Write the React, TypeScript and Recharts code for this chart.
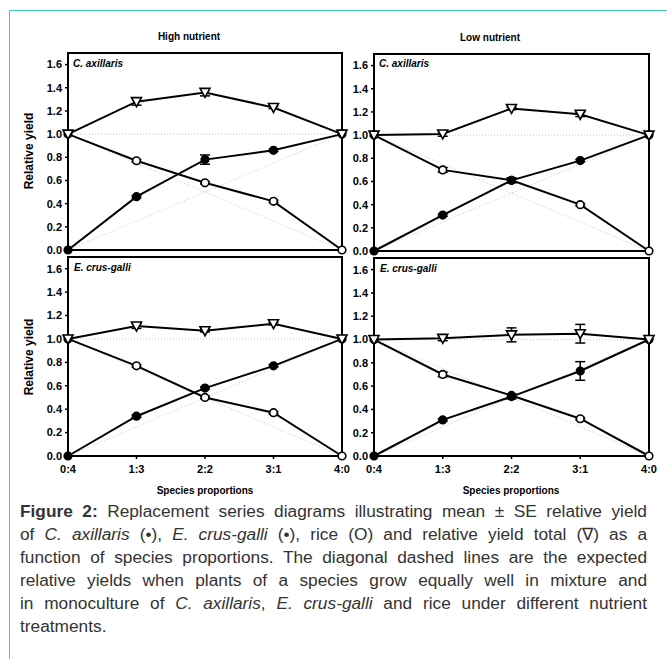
import React from 'react';
import { LineChart, Line, XAxis, YAxis, ErrorBar, ReferenceArea } from 'recharts';

const categories = ['0:4', '1:3', '2:2', '3:1', '4:0'];
const xPos = [0, 1, 2, 3, 4];
const yTicks = [0, 0.2, 0.4, 0.6, 0.8, 1.0, 1.2, 1.4, 1.6];

// expected (diagonal dashed) relative yields
const expectedWeed = [0, 0.25, 0.5, 0.75, 1.0];
const expectedRice = [1.0, 0.75, 0.5, 0.25, 0];
const expectedTotal = [1.0, 1.0, 1.0, 1.0, 1.0];

// High nutrient, C. axillaris
const highCaxWeed = [0, 0.46, 0.78, 0.86, 1.0];
const highCaxWeedErr = [0, 0.01, 0.04, 0.01, 0];
const highCaxRice = [1.0, 0.77, 0.58, 0.42, 0];
const highCaxRiceErr = [0, 0.01, 0.01, 0.01, 0];
const highCaxRyt = [1.0, 1.28, 1.36, 1.23, 1.0];
const highCaxRytErr = [0, 0.03, 0.03, 0.01, 0];

// Low nutrient, C. axillaris
const lowCaxWeed = [0, 0.31, 0.61, 0.78, 1.0];
const lowCaxWeedErr = [0, 0.01, 0.02, 0.01, 0];
const lowCaxRice = [1.0, 0.70, 0.61, 0.40, 0];
const lowCaxRiceErr = [0, 0.02, 0.02, 0.01, 0];
const lowCaxRyt = [1.0, 1.01, 1.23, 1.18, 1.0];
const lowCaxRytErr = [0, 0.02, 0.01, 0.02, 0];

// High nutrient, E. crus-galli
const highEcgWeed = [0, 0.34, 0.58, 0.77, 1.0];
const highEcgWeedErr = [0, 0.01, 0.01, 0.01, 0];
const highEcgRice = [1.0, 0.77, 0.50, 0.37, 0];
const highEcgRiceErr = [0, 0.01, 0.01, 0.01, 0];
const highEcgRyt = [1.0, 1.11, 1.07, 1.13, 1.0];
const highEcgRytErr = [0, 0.02, 0.01, 0.01, 0];

// Low nutrient, E. crus-galli
const lowEcgWeed = [0, 0.31, 0.51, 0.73, 1.0];
const lowEcgWeedErr = [0, 0.01, 0.02, 0.08, 0];
const lowEcgRice = [1.0, 0.70, 0.52, 0.32, 0];
const lowEcgRiceErr = [0, 0.02, 0.01, 0.01, 0];
const lowEcgRyt = [1.0, 1.01, 1.04, 1.05, 1.0];
const lowEcgRytErr = [0, 0.02, 0.06, 0.08, 0];

const FONT = '"Liberation Sans", Arial, Helvetica, sans-serif';

function buildRows(weed: number[], weedErr: number[], rice: number[], riceErr: number[], ryt: number[], rytErr: number[]) {
  return xPos.map((x, i) => ({
    x,
    weed: weed[i],
    weedErr: weedErr[i],
    rice: rice[i],
    riceErr: riceErr[i],
    ryt: ryt[i],
    rytErr: rytErr[i],
    expW: expectedWeed[i],
    expR: expectedRice[i],
    expT: expectedTotal[i],
  }));
}

const TriDot = (props: any) => {
  const { cx, cy, index } = props;
  if (cx == null || cy == null) return <g key={`tn-${index}`} />;
  return (
    <path
      key={`tri-${index}`}
      d={`M${cx - 5},${cy - 4} L${cx + 5},${cy - 4} L${cx},${cy + 5} Z`}
      fill="#fff"
      stroke="#000"
      strokeWidth={1.6}
    />
  );
};

type PanelProps = {
  plotLeft: number;
  plotTop: number;
  plotW: number;
  plotH: number;
  rows: any[];
  showX: boolean;
};

const Panel = ({ plotLeft, plotTop, plotW, plotH, rows, showX }: PanelProps) => {
  const yAxisW = 40;
  const mTop = 10;
  const mRight = 10;
  const xAxisH = showX ? 24 : 8;
  const width = plotW + yAxisW + mRight;
  const height = plotH + mTop + xAxisH;
  const tickStyle = { fontSize: 11, fontWeight: 'bold' as const, fill: '#000', fontFamily: FONT };
  return (
    <div style={{ position: 'absolute', left: plotLeft - yAxisW, top: plotTop - mTop }}>
      <LineChart width={width} height={height} data={rows} margin={{ top: mTop, right: mRight, left: 0, bottom: 0 }}>
        <XAxis
          dataKey="x"
          type="number"
          domain={[0, 4]}
          ticks={xPos}
          tickFormatter={(v: number) => categories[v]}
          height={xAxisH}
          axisLine={false}
          tickLine={{ stroke: '#000', strokeWidth: 1.5 }}
          tickSize={3}
          tickMargin={6}
          tick={showX ? tickStyle : false}
          interval={0}
        />
        <YAxis
          type="number"
          domain={[0, 1.7]}
          ticks={yTicks}
          tickFormatter={(v: number) => v.toFixed(1)}
          width={yAxisW}
          axisLine={false}
          tickLine={{ stroke: '#000', strokeWidth: 1.5 }}
          tickSize={3}
          tickMargin={3}
          tick={tickStyle}
          interval={0}
        />
        <Line dataKey="expT" stroke="#d0d0d0" strokeWidth={1.2} strokeDasharray="1 2" dot={false} activeDot={false} isAnimationActive={false} />
        <Line dataKey="expW" stroke="#d0d0d0" strokeWidth={1.2} strokeDasharray="1 2" dot={false} activeDot={false} isAnimationActive={false} />
        <Line dataKey="expR" stroke="#d0d0d0" strokeWidth={1.2} strokeDasharray="1 2" dot={false} activeDot={false} isAnimationActive={false} />
        <Line
          dataKey="rice"
          stroke="#000"
          strokeWidth={2}
          dot={{ r: 3.8, fill: '#fff', stroke: '#000', strokeWidth: 1.6 }}
          activeDot={false}
          isAnimationActive={false}
        >
          <ErrorBar dataKey="riceErr" direction="y" width={5} stroke="#000" strokeWidth={1.5} />
        </Line>
        <Line
          dataKey="weed"
          stroke="#000"
          strokeWidth={2}
          dot={{ r: 3.8, fill: '#000', stroke: '#000', strokeWidth: 1.6 }}
          activeDot={false}
          isAnimationActive={false}
        >
          <ErrorBar dataKey="weedErr" direction="y" width={5} stroke="#000" strokeWidth={1.5} />
        </Line>
        <Line
          dataKey="ryt"
          stroke="#000"
          strokeWidth={2}
          dot={TriDot}
          activeDot={false}
          isAnimationActive={false}
        >
          <ErrorBar dataKey="rytErr" direction="y" width={5} stroke="#000" strokeWidth={1.5} />
        </Line>
        <ReferenceArea x1={0} x2={4} y1={0} y2={1.7} fill="none" stroke="#000" strokeWidth={2} ifOverflow="visible" />
      </LineChart>
    </div>
  );
};

const txt = (style: React.CSSProperties, content: React.ReactNode) => (
  <div style={{ position: 'absolute', fontFamily: FONT, whiteSpace: 'nowrap', ...style }}>{content}</div>
);

const captionLines: React.ReactNode[] = [
  <>
    <b>Figure 2:</b> Replacement series diagrams illustrating mean ± SE relative yield
  </>,
  <>
    of <i>C. axillaris</i> (•), <i>E. crus-galli</i> (•), rice (O) and relative yield total (∇) as a
  </>,
  <>function of species proportions. The diagonal dashed lines are the expected</>,
  <>relative yields when plants of a species grow equally well in mixture and</>,
  <>
    in monoculture of <i>C. axillaris</i>, <i>E. crus-galli</i> and rice under different nutrient
  </>,
  <>treatments.</>,
];

export default function App() {
  const rowsHighCax = buildRows(highCaxWeed, highCaxWeedErr, highCaxRice, highCaxRiceErr, highCaxRyt, highCaxRytErr);
  const rowsLowCax = buildRows(lowCaxWeed, lowCaxWeedErr, lowCaxRice, lowCaxRiceErr, lowCaxRyt, lowCaxRytErr);
  const rowsHighEcg = buildRows(highEcgWeed, highEcgWeedErr, highEcgRice, highEcgRiceErr, highEcgRyt, highEcgRytErr);
  const rowsLowEcg = buildRows(lowEcgWeed, lowEcgWeedErr, lowEcgRice, lowEcgRiceErr, lowEcgRyt, lowEcgRytErr);

  return (
    <div style={{ position: 'absolute', left: 0, top: 0, width: 667, height: 659, background: '#fff', overflow: 'hidden', fontFamily: FONT }}>
      {/* teal frame */}
      <div style={{ position: 'absolute', left: 9, top: 10, width: 660, height: 0, borderTop: '1.5px solid #45cbb6' }} />
      <div style={{ position: 'absolute', left: 9, top: 10, width: 0, height: 660, borderLeft: '1.5px solid #45cbb6' }} />

      {/* column titles */}
      {txt({ left: 139, top: 31, width: 100, textAlign: 'center', fontSize: 10, fontWeight: 'bold' }, 'High nutrient')}
      {txt({ left: 440, top: 32, width: 100, textAlign: 'center', fontSize: 10, fontWeight: 'bold' }, 'Low nutrient')}

      <Panel plotLeft={68} plotTop={53} plotW={274} plotH={197} rows={rowsHighCax} showX={false} />
      <Panel plotLeft={374} plotTop={54} plotW={275} plotH={197} rows={rowsLowCax} showX={false} />
      <Panel plotLeft={68} plotTop={257} plotW={274} plotH={199} rows={rowsHighEcg} showX={true} />
      <Panel plotLeft={374} plotTop={258} plotW={275} plotH={198} rows={rowsLowEcg} showX={true} />

      {/* panel labels */}
      {txt({ left: 73, top: 58, fontSize: 10, fontWeight: 'bold', fontStyle: 'italic' }, 'C. axillaris')}
      {txt({ left: 379, top: 58, fontSize: 10, fontWeight: 'bold', fontStyle: 'italic' }, 'C. axillaris')}
      {txt({ left: 74, top: 262, fontSize: 10, fontWeight: 'bold', fontStyle: 'italic' }, 'E. crus-galli')}
      {txt({ left: 380, top: 263, fontSize: 10, fontWeight: 'bold', fontStyle: 'italic' }, 'E. crus-galli')}

      {/* y axis labels */}
      {txt({ left: 29, top: 151, fontSize: 12, fontWeight: 'bold', transform: 'translate(-50%, -50%) rotate(-90deg)' }, 'Relative yield')}
      {txt({ left: 29, top: 357, fontSize: 12, fontWeight: 'bold', transform: 'translate(-50%, -50%) rotate(-90deg)' }, 'Relative yield')}

      {/* x axis titles */}
      {txt({ left: 155, top: 485, width: 100, textAlign: 'center', fontSize: 10, fontWeight: 'bold' }, 'Species proportions')}
      {txt({ left: 461, top: 485, width: 100, textAlign: 'center', fontSize: 10, fontWeight: 'bold' }, 'Species proportions')}

      {/* caption */}
      {captionLines.map((line, i) => (
        <div
          key={`cap-${i}`}
          style={{
            position: 'absolute',
            left: 20,
            top: 500 + i * 23,
            width: 627,
            height: 23,
            fontSize: 17.3,
            lineHeight: '23px',
            whiteSpace: 'nowrap',
            textAlign: i < captionLines.length - 1 ? 'justify' : 'left',
            textAlignLast: i < captionLines.length - 1 ? 'justify' : 'left',
            color: '#333',
            fontFamily: FONT,
          }}
        >
          {line}
        </div>
      ))}
    </div>
  );
}
